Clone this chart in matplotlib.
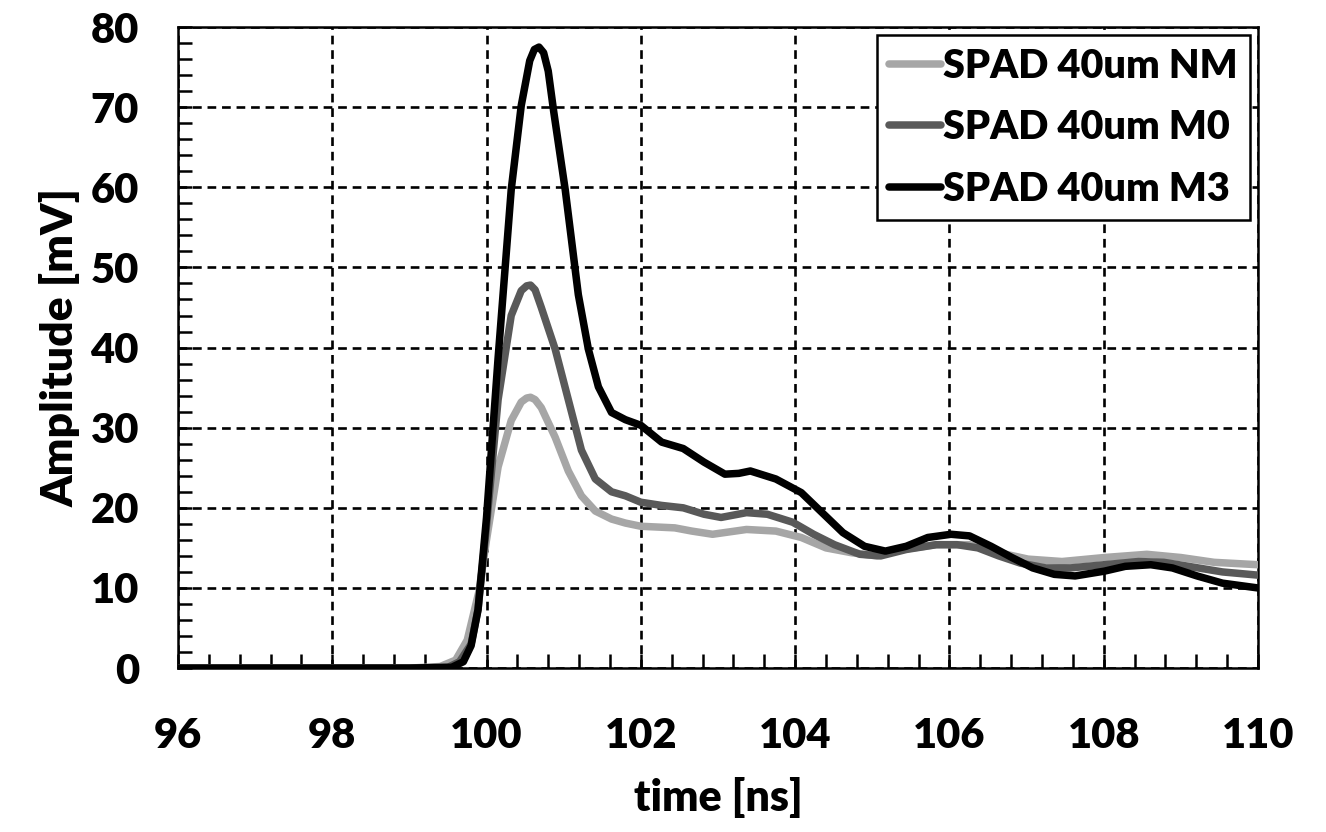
import matplotlib
matplotlib.use("Agg")
import matplotlib.pyplot as plt
from matplotlib.ticker import MultipleLocator

# ---- data ----
t_nm = [96.0, 99.0, 99.4, 99.6, 99.75, 99.9, 100.0, 100.15, 100.32, 100.45, 100.52, 100.57, 100.63,
        100.71, 100.89, 101.06, 101.23, 101.41, 101.62, 101.8, 102.0, 102.22, 102.44, 102.66, 102.93,
        103.15, 103.37, 103.75, 104.08, 104.4, 104.73, 105.06, 105.39, 105.83, 106.26, 106.64,
        107.02, 107.46, 108.01, 108.56, 109.0, 109.43, 110.0]
v_nm = [0.0, 0.0, 0.2, 1.0, 3.5, 9.5, 16.0, 25.1, 30.9, 33.2, 33.7, 33.8, 33.5,
        32.5, 28.8, 24.6, 21.5, 19.6, 18.6, 18.1, 17.7, 17.6, 17.5, 17.1, 16.7,
        17.0, 17.3, 17.1, 16.3, 15.0, 14.4, 14.0, 14.8, 15.4, 15.4, 14.4,
        13.6, 13.3, 13.8, 14.2, 13.8, 13.2, 12.9]

t_m0 = [96.0, 99.0, 99.5, 99.65, 99.8, 99.89, 100.0, 100.15, 100.32, 100.45, 100.52, 100.57, 100.63,
        100.71, 100.89, 101.06, 101.23, 101.41, 101.62, 101.8, 102.0, 102.27, 102.55, 102.82, 103.04,
        103.37, 103.64, 103.97, 104.24, 104.51, 104.84, 105.11, 105.44, 105.83, 106.1, 106.37,
        106.64, 106.92, 107.25, 107.57, 108.01, 108.45, 108.78, 109.1, 109.54, 110.0]
v_m0 = [0.0, 0.0, 0.1, 0.8, 3.0, 7.3, 17.8, 33.5, 44.0, 47.1, 47.7, 47.8, 47.2,
        45.0, 39.8, 33.5, 27.2, 23.6, 22.0, 21.5, 20.7, 20.3, 20.0, 19.2, 18.8,
        19.4, 19.2, 18.2, 16.7, 15.4, 14.2, 14.0, 14.8, 15.4, 15.4, 15.0,
        14.0, 13.1, 12.5, 12.5, 12.9, 13.3, 13.2, 12.7, 12.0, 11.6]

t_m3 = [96.0, 99.0, 99.55, 99.7, 99.8, 99.89, 100.0, 100.15, 100.32, 100.45, 100.56, 100.62, 100.68,
        100.74, 100.8, 100.87, 101.02, 101.19, 101.32, 101.45, 101.62, 101.8, 102.0, 102.27, 102.55,
        102.82, 103.09, 103.27, 103.42, 103.75, 104.08, 104.35, 104.62, 104.9, 105.17, 105.44,
        105.72, 106.02, 106.26, 106.54, 106.81, 107.08, 107.36, 107.63, 108.01, 108.28, 108.61,
        108.89, 109.21, 109.54, 110.0]
v_m3 = [0.0, 0.0, 0.1, 0.8, 2.8, 7.3, 18.8, 38.7, 59.7, 70.2, 75.8, 77.2, 77.5,
        76.8, 74.5, 69.5, 59.7, 46.6, 39.8, 35.1, 31.9, 31.0, 30.3, 28.2, 27.4,
        25.7, 24.2, 24.3, 24.6, 23.6, 21.9, 19.4, 16.9, 15.2, 14.6, 15.2,
        16.3, 16.7, 16.5, 15.2, 13.8, 12.5, 11.7, 11.5, 12.1, 12.7, 12.9,
        12.5, 11.5, 10.6, 10.0]

labels = ["SPAD 40um NM", "SPAD 40um M0", "SPAD 40um M3"]
colors = ["#a6a6a6", "#595959", "#000000"]

x_ticks = [96, 98, 100, 102, 104, 106, 108, 110]
y_ticks = [0, 10, 20, 30, 40, 50, 60, 70, 80]

plt.rcParams['font.family'] = ['Lato', 'DejaVu Sans']
plt.rcParams['font.weight'] = 'heavy'

fig = plt.figure(figsize=(13.26, 8.32), dpi=100)
ax = fig.add_axes([0.1342, 0.197, 0.8145, 0.7705])

for t, v, lab, c in zip([t_nm, t_m0, t_m3], [v_nm, v_m0, v_m3], labels, colors):
    ax.plot(t, v, color=c, lw=5.4, label=lab, solid_capstyle='round', solid_joinstyle='round', zorder=3)

ax.set_xlim(96, 110)
ax.set_ylim(0, 80)
ax.set_xticks(x_ticks)
ax.set_yticks(y_ticks)
ax.xaxis.set_minor_locator(MultipleLocator(0.4))
ax.yaxis.set_minor_locator(MultipleLocator(2))

ax.grid(True, which='major', color='black', linestyle=(0, (3.3, 2.2)), linewidth=1.9, zorder=1)
ax.set_axisbelow(True)

for s in ax.spines.values():
    s.set_linewidth(1.8)
    s.set_color('black')

ax.tick_params(which='both', direction='in', top=False, right=False, color='black', width=1.8)
ax.tick_params(which='major', length=10, labelsize=30)
ax.tick_params(which='minor', length=10)
ax.tick_params(axis='x', which='major', pad=35)
ax.tick_params(axis='y', which='major', pad=28)
for lbl in ax.get_xticklabels() + ax.get_yticklabels():
    lbl.set_fontweight('heavy')

ax.set_xlabel("time [ns]", fontsize=31, fontweight='heavy', labelpad=16)
ax.set_ylabel("Amplitude [mV]", fontsize=32, fontweight='heavy', labelpad=7)

leg = ax.legend(loc='upper right', frameon=True, fancybox=False,
                handlelength=1.3, handletextpad=0.05, borderpad=0.32, labelspacing=0.62,
                borderaxespad=0.2, prop={'weight': 'heavy', 'size': 28.5})
leg.get_frame().set_edgecolor('black')
leg.get_frame().set_linewidth(1.8)
leg.get_frame().set_alpha(1.0)

fig.savefig("out.png", dpi=100)
